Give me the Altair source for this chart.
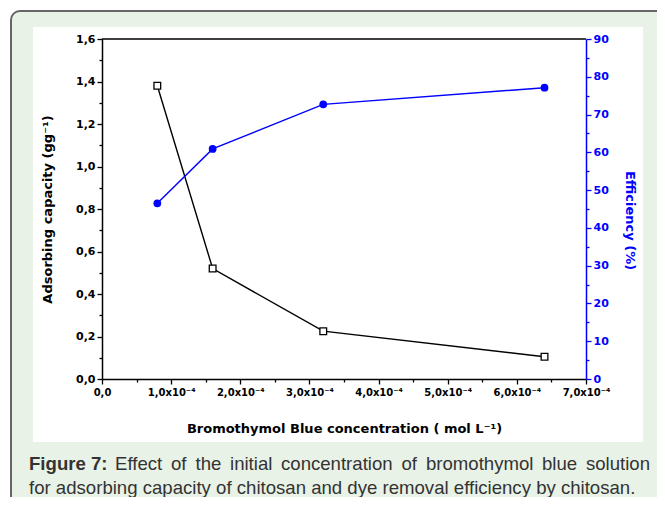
import altair as alt
import pandas as pd

# ---- data ----
conc = [0.00008, 0.00016, 0.00032, 0.00064]          # mol L-1
capacity = [1.38, 0.52, 0.225, 0.105]                # adsorbing capacity
efficiency = [46.5, 60.9, 72.7, 77.1]                # efficiency (%)

x_ticks = [0, 0.00005, 0.0001, 0.00015, 0.0002, 0.00025, 0.0003, 0.00035,
           0.0004, 0.00045, 0.0005, 0.00055, 0.0006, 0.00065, 0.0007]
left_ticks = [0.0, 0.1, 0.2, 0.3, 0.4, 0.5, 0.6, 0.7, 0.8, 0.9, 1.0, 1.1,
              1.2, 1.3, 1.4, 1.5, 1.6]
right_ticks = [0, 5, 10, 15, 20, 25, 30, 35, 40, 45, 50, 55, 60, 65, 70, 75,
               80, 85, 90]

x_title = "Bromothymol Blue concentration ( mol L⁻¹)"
left_title = "Adsorbing capacity (gg⁻¹)"
right_title = "Efficiency (%)"
caption_bold = "Figure 7:"
caption_1_words = ["Effect", "of", "the", "initial", "concentration", "of",
                   "bromothymol", "blue", "solution"]
caption_2 = "for adsorbing capacity of chitosan and dye removal efficiency by chitosan."

# justified placement of the first caption line (pixel offsets, layout only)
word_x = [13, 69, 93.5, 128, 179, 299.5, 324, 440, 548]

W, H = 484, 340
AX_FONT = "DejaVu Sans"
CAP_FONT = "Liberation Sans"
BLUE = "#0000ff"

df = pd.DataFrame({"conc": conc, "capacity": capacity, "efficiency": efficiency})
one = pd.DataFrame({"k": [0]})

x_enc = alt.X(
    "conc:Q",
    scale=alt.Scale(domain=[0, 0.0007], nice=False, zero=False),
    axis=alt.Axis(
        values=x_ticks,
        labelExpr="round(datum.value*1e5) % 2 == 0 ? (datum.value < 1e-9 ? '0,0' : replace(format(datum.value*1e4, '.1f'), '.', ',') + 'x10⁻⁴') : ''",
        tickSize={"condition": {"test": "round(datum.value*1e5) % 2 == 0", "value": 5}, "value": 3},
        title=x_title, titlePadding=25, zindex=1,
        domainColor="black", tickColor="black", labelColor="black",
        domainWidth=1.5, tickWidth=1.3,
        labelFont=AX_FONT, labelFontWeight="bold", labelFontSize=10, labelPadding=3,
        titleFont=AX_FONT, titleFontWeight="bold", titleFontSize=13,
        grid=False, labelFlush=False, labelOverlap=False, labelBound=False,
    ),
)

left_axis = alt.Axis(
    orient="left", values=left_ticks,
    labelExpr="round(datum.value*10) % 2 == 0 ? replace(format(datum.value, '.1f'), '.', ',') : ''",
    tickSize={"condition": {"test": "round(datum.value*10) % 2 == 0", "value": 5}, "value": 3},
    title=left_title, titlePadding=21, zindex=1,
    domainColor="black", tickColor="black", labelColor="black",
    domainWidth=1.5, tickWidth=1.3,
    labelFont=AX_FONT, labelFontWeight="bold", labelFontSize=11,
    titleFont=AX_FONT, titleFontWeight="bold", titleFontSize=13,
    grid=False, labelFlush=False, labelOverlap=False, labelBound=False,
)

right_axis = alt.Axis(
    orient="right", values=right_ticks,
    labelExpr="datum.value % 10 == 0 ? format(datum.value, 'd') : ''",
    tickSize={"condition": {"test": "datum.value % 10 == 0", "value": 5}, "value": 3},
    title=right_title, titlePadding=14, titleY=181, zindex=1,
    domainColor=BLUE, tickColor=BLUE, labelColor=BLUE, titleColor=BLUE,
    domainWidth=1.5, tickWidth=1.3,
    labelFont=AX_FONT, labelFontWeight="bold", labelFontSize=11,
    titleFont=AX_FONT, titleFontWeight="bold", titleFontSize=13,
    grid=False, labelFlush=False, labelOverlap=False, labelBound=False,
)

# ---- decoration: green framed box and white panel ----
frame = alt.Chart(one).mark_rect(
    fill="#e9f2e6", stroke="#666666", strokeWidth=2, cornerRadius=9
).encode(x=alt.value(-91), x2=alt.value(700), y=alt.value(-28), y2=alt.value(600))

panel = alt.Chart(one).mark_rect(fill="white").encode(
    x=alt.value(-69), x2=alt.value(541), y=alt.value(-12), y2=alt.value(403)
)

top_border = alt.Chart(one).mark_rule(color="black", strokeWidth=1.5).encode(
    x=alt.value(0), x2=alt.value(W), y=alt.value(0)
)

# ---- data series ----
cap_line = alt.Chart(df).mark_line(color="black", strokeWidth=1.4).encode(
    x=x_enc, y=alt.Y("capacity:Q", scale=alt.Scale(domain=[0, 1.6], nice=False), axis=left_axis)
)
cap_pts = alt.Chart(df).mark_point(
    shape="square", filled=True, fill="white", stroke="black", strokeWidth=1.3, size=45, opacity=1
).encode(x=x_enc, y=alt.Y("capacity:Q", axis=left_axis))

eff_line = alt.Chart(df).mark_line(color=BLUE, strokeWidth=1.4).encode(
    x=x_enc, y=alt.Y("efficiency:Q", scale=alt.Scale(domain=[0, 90], nice=False), axis=right_axis)
)
eff_pts = alt.Chart(df).mark_point(
    shape="circle", filled=True, color=BLUE, size=60, opacity=1
).encode(x=x_enc, y=alt.Y("efficiency:Q", axis=right_axis))

# ---- caption ----
FS = 18.6
TXT = "#333333"


def cap_text(text, x, y, align="left", bold=False):
    return alt.Chart(pd.DataFrame({"t": [text]})).mark_text(
        align=align, baseline="alphabetic", font=CAP_FONT, fontSize=FS,
        fontWeight="bold" if bold else "normal", color=TXT
    ).encode(x=alt.value(x), y=alt.value(y), text="t:N")


captions = [cap_text(caption_bold, -73, 431, bold=True)]
for i, (wd, px) in enumerate(zip(caption_1_words, word_x)):
    last = i == len(caption_1_words) - 1
    captions.append(cap_text(wd, px, 431, align="right" if last else "left"))
captions.append(cap_text(caption_2, -73, 455))

chart = alt.layer(
    frame, panel, top_border,
    alt.layer(cap_line, cap_pts),
    alt.layer(eff_line, eff_pts),
    *captions,
).resolve_scale(y="independent").properties(
    width=W, height=H,
    autosize=alt.AutoSizeParams(type="none"),
    padding={"left": 94, "top": 31, "right": 71, "bottom": 118},
    background="white",
).configure_view(stroke=None).configure_axis(labelOverlap=False)

chart.save("out.html", embed_options={"renderer": "svg", "actions": False})
